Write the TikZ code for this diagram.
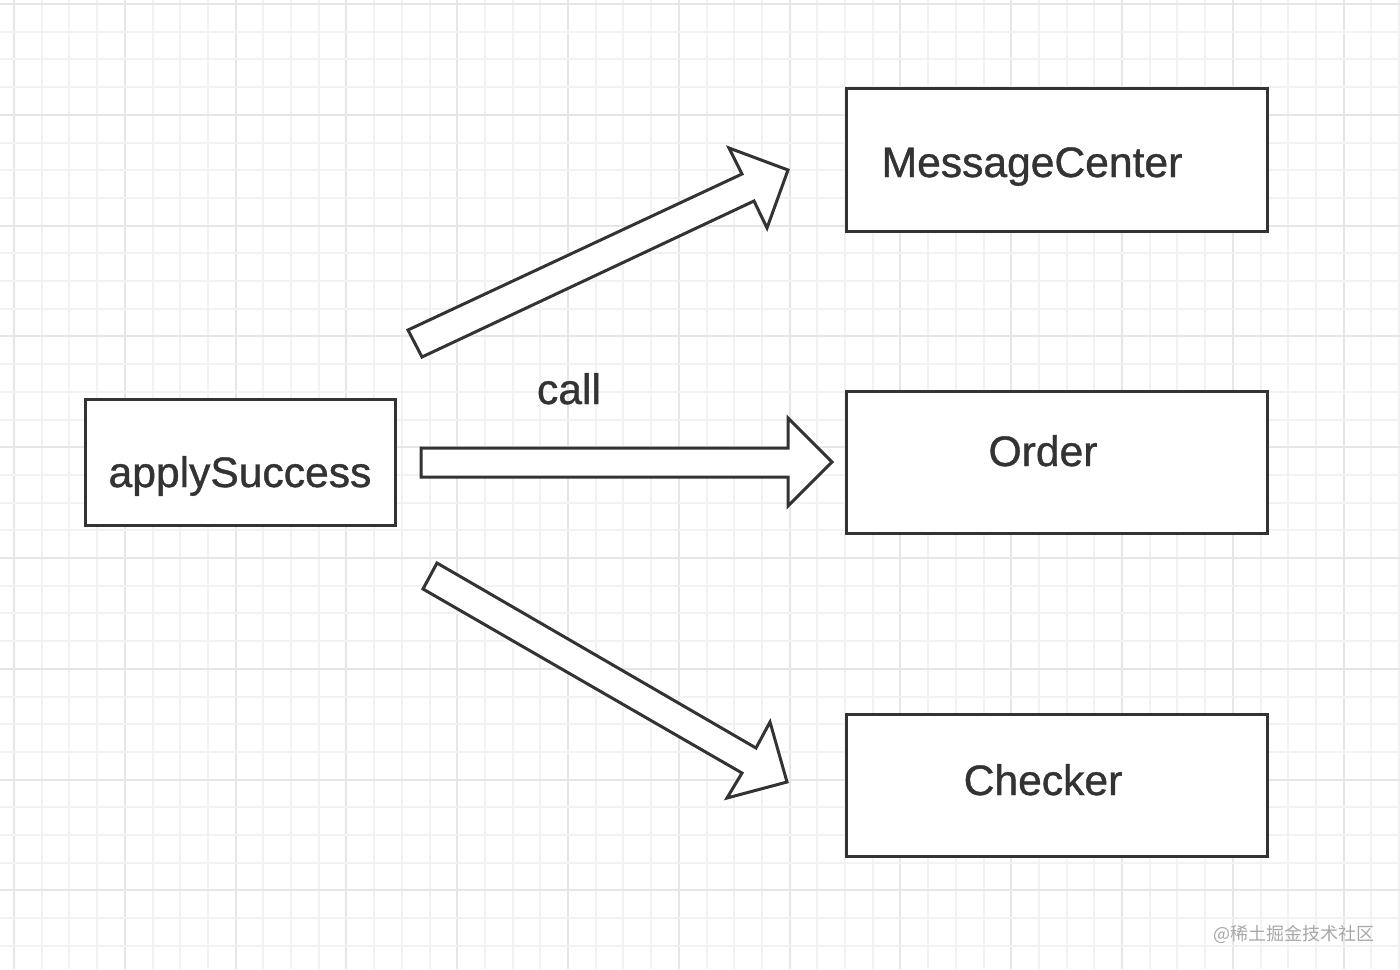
\documentclass[tikz,border=0pt]{standalone}
\usepackage{fontspec}
\setmainfont{Liberation Sans}
\newfontfamily\lblfont[FakeBold=0.9]{Liberation Sans}
\newfontfamily\cjk{Noto Sans CJK SC}
\definecolor{ink}{HTML}{333333}
\definecolor{gridminor}{HTML}{F2F2F2}
\definecolor{gridmajor}{HTML}{E6E6E6}
\definecolor{wm}{HTML}{A8A8A8}
\tikzset{
  box/.style={draw=ink, line width=1.5pt, fill=white, inner sep=0pt},
  lbl/.style={text=ink, font=\lblfont\fontsize{21.3}{25}\selectfont, anchor=base, inner sep=0pt},
  fatarrow/.style={draw=ink, line width=1.5pt, fill=white, line join=miter},
}
\begin{document}
\begin{tikzpicture}[x=0.5pt, y=-0.5pt]
\useasboundingbox (0,0) rectangle (1400,969);
\fill[white] (0,0) rectangle (1400,969);
% grid
\foreach \k in {0,...,50} {
  \pgfmathsetmacro{\xx}{14+27.7*\k}
  \pgfmathtruncatemacro{\m}{mod(\k,4)}
  \ifnum\m=0
    \draw[gridmajor, line width=1pt] (\xx,0) -- (\xx,969);
  \else
    \draw[gridminor, line width=1pt] (\xx,0) -- (\xx,969);
  \fi
}
\foreach \k in {0,...,35} {
  \pgfmathsetmacro{\yy}{4+27.7*\k}
  \pgfmathtruncatemacro{\m}{mod(\k,4)}
  \ifnum\m=0
    \draw[gridmajor, line width=1pt] (0,\yy) -- (1400,\yy);
  \else
    \draw[gridminor, line width=1pt] (0,\yy) -- (1400,\yy);
  \fi
}
% boxes
\node[box, minimum width=155pt, minimum height=63pt] (apply) at (240,462) {};
\node[box, minimum width=210.5pt, minimum height=71.5pt] (msg) at (1056.5,159.5) {};
\node[box, minimum width=210.5pt, minimum height=71pt] (order) at (1056.5,462) {};
\node[box, minimum width=210.5pt, minimum height=71pt] (checker) at (1056.5,785) {};
% labels
\node[lbl] (applyT) at (240,487) {applySuccess};
\node[lbl] (msgT) at (1032,177) {MessageCenter};
\node[lbl] (orderT) at (1043,466) {Order};
\node[lbl] (checkerT) at (1043,795) {Checker};
\node[lbl] (callT) at (569,404) {call};
% fat arrows
\draw[fatarrow] (408,330) -- (742,174) -- (729,148) -- (788,170) -- (767,228) -- (754,201) -- (422,357) -- cycle;
\draw[fatarrow] (421,448) -- (788,448) -- (788,418) -- (832,462) -- (788,506) -- (788,477) -- (421,477) -- cycle;
\draw[fatarrow] (437,563) -- (756,748) -- (770,722) -- (787,782) -- (727,798) -- (742,773) -- (423,589) -- cycle;
% watermark
\node[text=wm, font=\cjk\fontsize{9}{11}\selectfont, anchor=base east, inner sep=0pt] (wmark) at (1375,940) {@稀土掘金技术社区};
\end{tikzpicture}
\end{document}
